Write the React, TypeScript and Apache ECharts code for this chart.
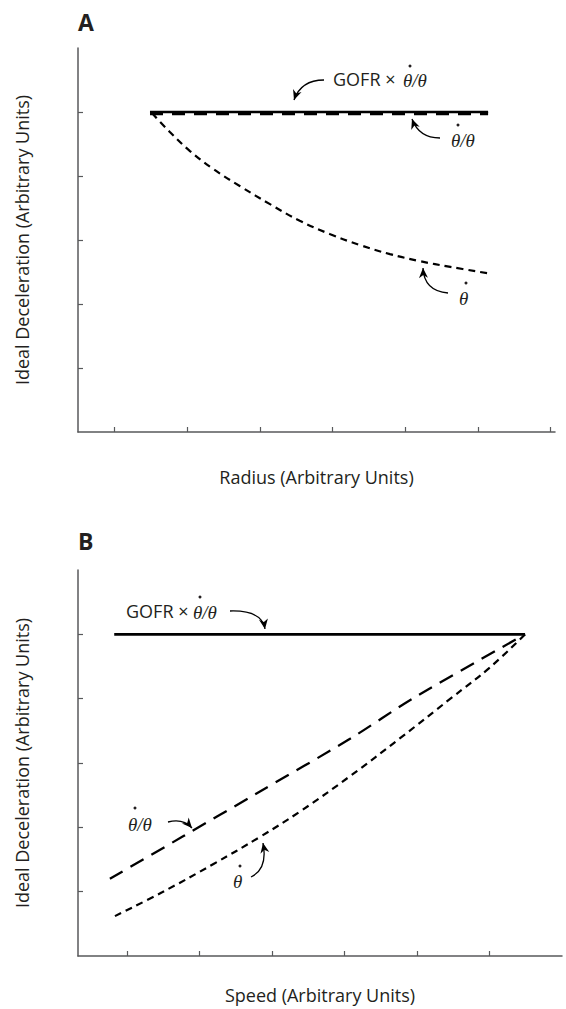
import React, { useEffect, useRef } from "react";
import * as echarts from "echarts";

// ---- data (arbitrary units) ----
const yTickValues = [1, 2, 3, 4, 5];
const radiusTickValues = [0, 1, 2, 3, 4, 5, 6];
const speedTickValues = [0, 1, 2, 3, 4, 5];

// Panel A: ideal deceleration vs radius
const radiusGofr: number[][] = [[0.49, 5], [5.14, 5]];
const radiusRatio: number[][] = [[0.49, 4.975], [5.14, 4.975]];
const radiusRate: number[][] = [
  [0.52, 4.98], [0.76, 4.69], [1.04, 4.39], [1.36, 4.11], [1.73, 3.84], [2.14, 3.56], [2.55, 3.3],
  [2.97, 3.09], [3.38, 2.92], [3.79, 2.78], [4.2, 2.67], [4.62, 2.58], [5.14, 2.48],
];

// Panel B: ideal deceleration vs speed
const speedGofr: number[][] = [[-0.18, 5], [5.49, 5]];
const speedRatio: number[][] = [[-0.24, 1.2], [0.77, 1.86], [1.79, 2.53], [3.08, 3.38], [3.95, 4.01], [5.49, 5]];
const speedRate: number[][] = [
  [-0.17, 0.62], [0.48, 0.99], [1.19, 1.43], [1.83, 1.85], [2.39, 2.25], [3.08, 2.8],
  [3.77, 3.39], [4.46, 4.0], [5.01, 4.49], [5.49, 5],
];

const INK = "#231f20";
const AXIS = "#58595b";
const SANS = "Open Sans";
const SERIF = "Liberation Serif";

function axisX(gridIndex: number, min: number, max: number, ticks: number[], name: string, gap: number) {
  return {
    gridIndex, type: "value", min, max,
    axisLine: { show: true, onZero: false, lineStyle: { color: AXIS, width: 1.5 } },
    axisTick: { show: true, inside: true, length: 5, customValues: ticks, lineStyle: { color: AXIS, width: 1.2 } },
    axisLabel: { show: false }, splitLine: { show: false },
    name, nameLocation: "middle", nameGap: gap,
    nameTextStyle: { fontFamily: SANS, fontSize: 18, color: INK },
  };
}
function axisY(gridIndex: number) {
  return {
    gridIndex, type: "value", min: 0, max: 6,
    axisLine: { show: true, onZero: false, lineStyle: { color: AXIS, width: 1.5 } },
    axisTick: { show: true, inside: true, length: 5, customValues: yTickValues, lineStyle: { color: AXIS, width: 1.2 } },
    axisLabel: { show: false }, splitLine: { show: false },
    name: "Ideal Deceleration (Arbitrary Units)", nameLocation: "middle", nameGap: 47,
    nameTextStyle: { fontFamily: SANS, fontSize: 18, color: INK },
  };
}
function line(idx: number, data: number[][], width: number, type: any, smooth: boolean | number, z = 2) {
  return {
    type: "line", xAxisIndex: idx, yAxisIndex: idx, data, symbol: "none", smooth, z,
    lineStyle: { color: "#000", width, type, cap: "butt" },
  };
}

const arrows = [
  { tail: [324, 80], cp: [301, 80], head: [294, 100] },
  { tail: [440, 138], cp: [419, 138], head: [412, 119] },
  { tail: [448, 293], cp: [424, 291], head: [423, 268] },
  { tail: [230, 611], cp: [262, 610], head: [265, 629] },
  { tail: [168, 822], cp: [183, 818], head: [192, 828] },
  { tail: [251, 877], cp: [268, 869], head: [263, 843] },
];

function arrowGraphics() {
  const out: any[] = [];
  for (const a of arrows) {
    out.push({
      type: "bezierCurve",
      shape: { x1: a.tail[0], y1: a.tail[1], x2: a.head[0], y2: a.head[1], cpx1: a.cp[0], cpy1: a.cp[1] },
      style: { stroke: "#000", lineWidth: 1.3, fill: null },
    });
    let dx = a.head[0] - a.cp[0], dy = a.head[1] - a.cp[1];
    const L = Math.hypot(dx, dy) || 1;
    dx /= L; dy /= L;
    const px = -dy, py = dx;
    const bx = a.head[0] - dx * 10, by = a.head[1] - dy * 10;
    const nx = a.head[0] - dx * 7, ny = a.head[1] - dy * 7;
    out.push({
      type: "polygon",
      shape: { points: [[a.head[0], a.head[1]], [bx + px * 4.5, by + py * 4.5], [nx, ny], [bx - px * 4.5, by - py * 4.5]] },
      style: { fill: "#000", stroke: null },
    });
  }
  return out;
}

function sansText(x: number, y: number, text: string) {
  return { type: "text", x, y, style: { text, fontFamily: SANS, fontSize: 18, fill: INK, verticalAlign: "middle", align: "left" } };
}
function thetaText(x: number, y: number, text: string) {
  return { type: "text", x, y, style: { text, fontFamily: SERIF, fontStyle: "italic", fontSize: 19, fill: INK, verticalAlign: "middle", align: "left" } };
}
function dot(x: number, y: number) {
  return { type: "circle", shape: { cx: x, cy: y, r: 1.5 }, style: { fill: INK } };
}

export default function App() {
  const ref = useRef<HTMLDivElement>(null);
  useEffect(() => {
    document.body.style.margin = "0";
    const chart = echarts.init(ref.current!, null, { renderer: "svg" });
    chart.setOption({
      animation: false,
      backgroundColor: "#fff",
      grid: [
        { left: 78, top: 48, width: 477, height: 384 },
        { left: 78, top: 570, width: 484, height: 386 },
      ],
      xAxis: [
        axisX(0, -0.5, 6.06, radiusTickValues, "Radius (Arbitrary Units)", 36),
        axisX(1, -0.68, 6.0, speedTickValues, "Speed (Arbitrary Units)", 30),
      ],
      yAxis: [axisY(0), axisY(1)],
      series: [
        line(0, radiusGofr, 2.6, "solid", false, 3),
        line(0, radiusRatio, 3.4, [13, 9], false, 2),
        line(0, radiusRate, 2.2, [7, 5], 0.4, 2),
        line(1, speedGofr, 2.6, "solid", false, 3),
        line(1, speedRatio, 2.3, [15, 9], 0.3, 2),
        line(1, speedRate, 2.2, [7, 5], 0.4, 2),
      ],
      graphic: [
        { type: "text", x: 78, y: 22, style: { text: "A", fontFamily: SANS, fontWeight: "bold", fontSize: 23, fill: INK, verticalAlign: "middle" } },
        { type: "text", x: 78, y: 541, style: { text: "B", fontFamily: SANS, fontWeight: "bold", fontSize: 23, fill: INK, verticalAlign: "middle" } },
        // Panel A labels
        sansText(333, 79, "GOFR ×"),
        thetaText(403, 80, "θ/θ"),
        dot(410, 66),
        thetaText(451, 140, "θ/θ"),
        dot(458, 125),
        thetaText(459, 298, "θ"),
        dot(466, 283),
        // Panel B labels
        sansText(126, 611, "GOFR ×"),
        thetaText(193, 612, "θ/θ"),
        dot(200, 597),
        thetaText(128, 824, "θ/θ"),
        dot(135, 808),
        thetaText(233, 881, "θ"),
        dot(240, 866),
        ...arrowGraphics(),
      ],
    });
    return () => chart.dispose();
  }, []);
  return <div ref={ref} style={{ width: 566, height: 1009 }} />;
}
